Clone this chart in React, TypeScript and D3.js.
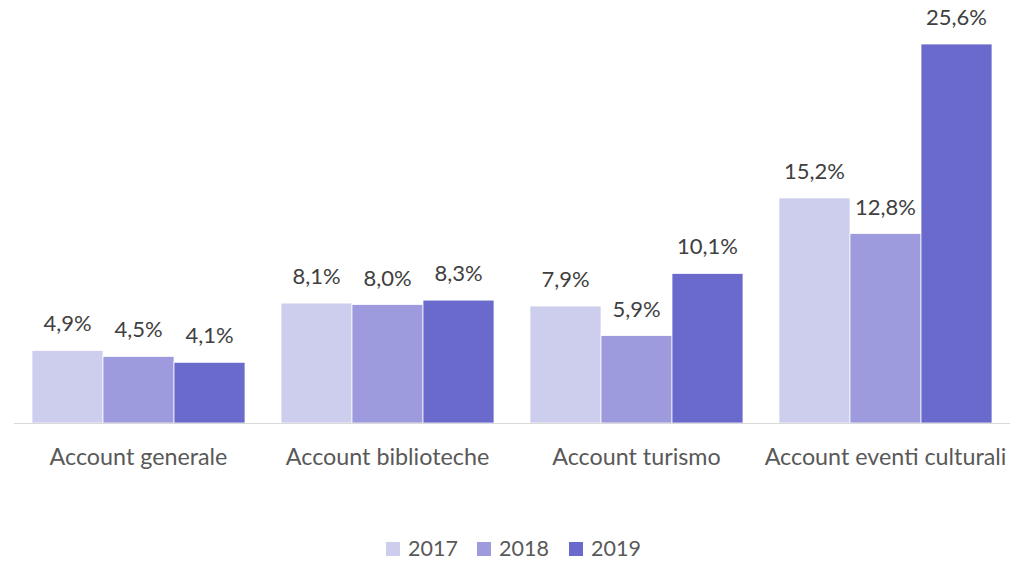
import React from "react";
import * as d3 from "d3";

const categories = ["Account generale", "Account biblioteche", "Account turismo", "Account eventi culturali"];
const seriesNames = ["2017", "2018", "2019"];
const values2017 = [4.9, 8.1, 7.9, 15.2];
const values2018 = [4.5, 8.0, 5.9, 12.8];
const values2019 = [4.1, 8.3, 10.1, 25.6];
const colors = ["#CDCDEE", "#9D9ADD", "#6A6ACD"];

const W = 1017, H = 561;
const FONT = "Lato, 'Open Sans', sans-serif";

export default function App() {
  const series = [values2017, values2018, values2019];
  const x0 = d3.scaleBand().domain(categories).range([14, 1010]).paddingInner(0).paddingOuter(0);
  const groupW = 213;
  const x1 = d3.scaleBand().domain(seriesNames).range([0, groupW]);
  const y = d3.scaleLinear().domain([0, 25.6]).range([423, 44]);
  const fmt = (v: number) => v.toFixed(1).replace(".", ",") + "%";
  const legendX = [386, 477, 569];
  return (
    <svg width={W} height={H} style={{ position: "absolute", left: 0, top: 0 }}>
      <rect width={W} height={H} fill="#fff" />
      {categories.map((c, ci) => {
        const gx = x0(c)! + x0.bandwidth() / 2 - groupW / 2;
        return (
          <g key={c}>
            {seriesNames.map((s, si) => {
              const v = series[si][ci];
              const bx = gx + x1(s)!;
              return (
                <g key={s}>
                  <rect x={bx} y={y(v)} width={x1.bandwidth()} height={y(0) - y(v)} fill={colors[si]} stroke="#fff" strokeWidth={0.75} />
                  <text x={bx + x1.bandwidth() / 2} y={y(v) - 19} textAnchor="middle" fontFamily={FONT} fontSize={22} fill="#404040">{fmt(v)}</text>
                </g>
              );
            })}
            <text x={x0(c)! + x0.bandwidth() / 2} y={465} textAnchor="middle" fontFamily={FONT} fontSize={23.3} fill="#595959">{c}</text>
          </g>
        );
      })}
      <line x1={14} x2={1010} y1={423.5} y2={423.5} stroke="#D9D9D9" strokeWidth={1} />
      {seriesNames.map((s, i) => (
        <g key={s}>
          <rect x={legendX[i]} y={542} width={14} height={14} fill={colors[i]} />
          <text x={legendX[i] + 22} y={556} fontFamily={FONT} fontSize={21.5} fill="#595959">{s}</text>
        </g>
      ))}
    </svg>
  );
}
